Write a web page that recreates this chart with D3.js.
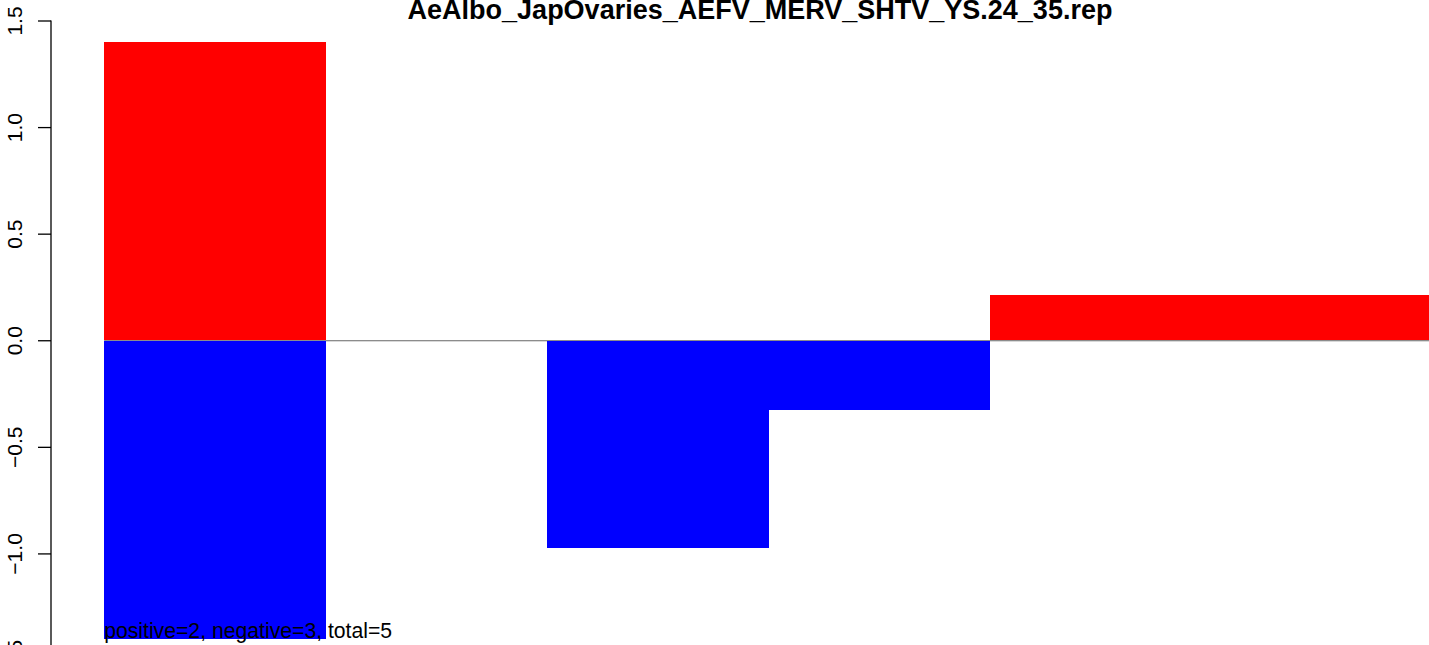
<!DOCTYPE html>
<html>
<head>
<meta charset="utf-8">
<script src="https://cdn.jsdelivr.net/npm/d3@7"></script>
<style>
  body { margin: 0; background: #fff; }
  svg { display: block; font-family: "Liberation Sans", Arial, Helvetica, sans-serif; }
</style>
</head>
<body>
<svg id="chart"></svg>
<script>
// bar slots (no names shown on the x axis)
const slots = [0, 1, 2, 3, 4, 5];
const positiveValues = [1.4, 0, 0, 0, 0.21, 0.21];
const negativeValues = [-1.4, 0, -0.975, -0.325, 0, 0];
const yTicks = [-1.5, -1.0, -0.5, 0.0, 0.5, 1.0, 1.5];
const title = 'AeAlbo_JapOvaries_AEFV_MERV_SHTV_YS.24_35.rep';
const note = 'positive=2, negative=3, total=5';

const width = 1429, height = 645;

const svg = d3.select('#chart')
    .attr('width', width)
    .attr('height', height);

// R style plot region: x usr extends 4% past the bars, so it runs off the right edge
const xScale = d3.scaleLinear()
    .domain([-0.24, slots.length + 0.24])
    .range([51, 1486]);

const yScale = d3.scaleLinear()
    .domain([-1.5, 1.5])
    .range([660, 20.5]);

const bw = xScale(1) - xScale(0);

// baseline under the bars
svg.append('line')
    .attr('x1', xScale(0))
    .attr('x2', width)
    .attr('y1', yScale(0) + 0.5)
    .attr('y2', yScale(0) + 0.5)
    .attr('stroke', '#666')
    .attr('stroke-width', 1);

svg.selectAll('.pos')
    .data(slots)
    .join('rect')
    .attr('class', 'pos')
    .attr('x', d => xScale(d))
    .attr('width', bw + 0.5)
    .attr('y', d => yScale(positiveValues[d]))
    .attr('height', d => yScale(0) - yScale(positiveValues[d]))
    .attr('fill', '#ff0000')
    .attr('shape-rendering', 'crispEdges');

svg.selectAll('.neg')
    .data(slots)
    .join('rect')
    .attr('class', 'neg')
    .attr('x', d => xScale(d))
    .attr('width', bw + 0.5)
    .attr('y', yScale(0) + 0.5)
    .attr('height', d => Math.max(0, yScale(negativeValues[d]) - yScale(0) - 0.5))
    .attr('fill', '#0000ff')
    .attr('shape-rendering', 'crispEdges');

// y axis, labels rotated like R's default las=0
const yAxis = d3.axisLeft(yScale)
    .tickValues(yTicks)
    .tickFormat(d3.format('.1f'))
    .tickSize(13)
    .tickSizeOuter(0);

const yAxisG = svg.append('g')
    .attr('transform', 'translate(51,0)')
    .call(yAxis);

yAxisG.select('.domain')
    .attr('stroke', '#000')
    .attr('stroke-width', 1.3)
    .attr('d', `M0,${yScale(1.5)}V${yScale(-1.5)}`);
yAxisG.selectAll('.tick line')
    .attr('stroke', '#000')
    .attr('stroke-width', 1.3);
yAxisG.selectAll('.tick text')
    .attr('x', null)
    .attr('dy', null)
    .attr('transform', 'translate(-29,0) rotate(-90)')
    .attr('text-anchor', 'middle')
    .attr('fill', '#000')
    .style('font-family', '"Liberation Sans", Arial, sans-serif')
    .style('font-size', '21px');

svg.append('text')
    .attr('x', 760)
    .attr('y', 19)
    .attr('text-anchor', 'middle')
    .style('font-weight', 'bold')
    .style('font-size', '27px')
    .text(title);

svg.append('text')
    .attr('x', xScale(0))
    .attr('y', 638)
    .style('font-size', '21.2px')
    .text(note);
</script>
</body>
</html>
